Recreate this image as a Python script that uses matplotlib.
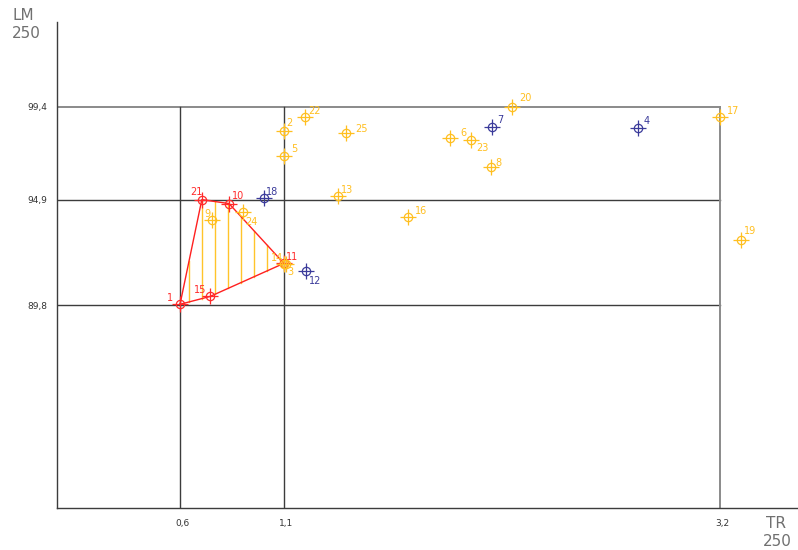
import matplotlib
matplotlib.use("Agg")
import matplotlib.pyplot as plt
import numpy as np

# sample points: id, TR, LM, group
ids = [1, 15, 21, 10, 11, 14, 3, 9, 24, 18, 12, 2, 22, 25, 5, 13, 16, 6, 23, 7, 20, 8, 4, 17, 19]
tr = [0.60, 0.745, 0.705, 0.836, 1.10, 1.10, 1.11, 0.754, 0.903, 1.004, 1.207, 1.10, 1.201, 1.398,
      1.10, 1.36, 1.697, 1.899, 2.00, 2.10, 2.197, 2.095, 2.806, 3.20, 3.30]
lm = [89.85, 90.23, 94.91, 94.72, 91.83, 91.80, 91.80, 93.95, 94.33, 95.01, 91.44, 98.24, 98.92, 98.15,
      97.04, 95.11, 94.05, 97.90, 97.81, 98.43, 99.40, 96.51, 98.39, 98.92, 92.98]
grp = ["r", "r", "r", "r", "r", "o", "o", "o", "o", "b", "b", "o", "o", "o",
       "o", "o", "o", "o", "o", "b", "o", "o", "b", "o", "o"]

# label offsets in pixels (dx right, dy down)
lab_off = {1: (-10, -6), 15: (-10, -6), 21: (-5, -8), 10: (9, -8), 11: (8, -6), 14: (-7, -6),
           3: (4, 8), 9: (-5, -6), 24: (8, 10), 18: (8, -6), 12: (9, 10), 2: (5, -8),
           22: (10, -6), 25: (16, -4), 5: (10, -7), 13: (9, -6), 16: (13, -6), 6: (14, -5),
           23: (12, 8), 7: (9, -7), 20: (14, -9), 8: (8, -4), 4: (8, -7), 17: (13, -6), 19: (9, -9)}

hull = [1, 21, 10, 11, 15]  # ids of the outlined zone, in order
x_lim_lines = [0.6, 1.1, 3.2]
y_lim_lines = [89.8, 94.9, 99.4]
x_labels = ["0,6", "1,1", "3,2"]
y_labels = ["89,8", "94,9", "99,4"]

COL = {"r": "#ff2a2a", "o": "#ffbf1f", "b": "#3a3a9a"}
LINE = "#3c3c3c"

fig = plt.figure(figsize=(7.98, 5.5), dpi=100)
ax = fig.add_axes([57 / 798, 42 / 550, (798 - 57) / 798, 486 / 550])
ax.set_xlim(0.0078, 3.575)
ax.set_ylim(80, 103.5)
for s in ["top", "right"]:
    ax.spines[s].set_visible(False)
for s in ["left", "bottom"]:
    ax.spines[s].set_color(LINE)
    ax.spines[s].set_linewidth(1.0)

# limit frame
for y in y_lim_lines:
    top = y == 99.4
    ax.plot([0.0078, 3.2], [y, y], color="#8a8a8a" if top else LINE, lw=1.4 if top else 1.0, zorder=1)
for x in x_lim_lines:
    edge = x == 3.2
    ax.plot([x, x], [80, 99.4], color="#8a8a8a" if edge else LINE, lw=1.4 if edge else 1.0, zorder=1)

ax.set_xticks(x_lim_lines, x_labels, fontsize=6.5, color="#333333")
ax.set_yticks(y_lim_lines, y_labels, fontsize=6.5, color="#333333")
ax.tick_params(length=0, pad=8)
ax.tick_params(axis="y", pad=7)
for t in ax.get_xticklabels():
    t.set_x(t.get_position()[0])
    t.set_horizontalalignment("left")
    t.set_transform(t.get_transform() + matplotlib.transforms.ScaledTranslation(-5 / 100, 0, fig.dpi_scale_trans))

# outlined zone with vertical hatching
pos = {i: (x, y) for i, x, y in zip(ids, tr, lm)}
hx = [pos[i][0] for i in hull] + [pos[hull[0]][0]]
hy = [pos[i][1] for i in hull] + [pos[hull[0]][1]]
for xv in np.arange(0.643, 1.1, 0.0626):
    ys = []
    for k in range(len(hull)):
        x1, y1, x2, y2 = hx[k], hy[k], hx[k + 1], hy[k + 1]
        if min(x1, x2) <= xv <= max(x1, x2) and x1 != x2:
            ys.append(y1 + (xv - x1) * (y2 - y1) / (x2 - x1))
    if len(ys) >= 2:
        ax.plot([xv, xv], [min(ys), max(ys)], color="#ffc42a", lw=1.0, zorder=2)
ax.plot(hx, hy, color="#ff2020", lw=1.0, zorder=3)

for i, x, y, g in zip(ids, tr, lm, grp):
    c = COL[g]
    ax.plot(x, y, marker="o", ms=6, mfc="none", mec=c, mew=0.9, zorder=4)
    ax.plot(x, y, marker="+", ms=12, mec=c, mew=0.9, zorder=4)
    dx, dy = lab_off[i]
    ax.annotate(str(i), (x, y), xytext=(dx * 0.72, -dy * 0.72), textcoords="offset points",
                ha="center", va="center", fontsize=7, color=c, zorder=5)

fig.text(12 / 798, 1 - 15 / 550, "LM", fontsize=11, color="#707070", va="center", ha="left")
fig.text(12 / 798, 1 - 33 / 550, "250", fontsize=11, color="#707070", va="center", ha="left")
fig.text(766 / 798, 1 - 524 / 550, "TR", fontsize=11, color="#707070", va="center", ha="left")
fig.text(763 / 798, 1 - 542 / 550, "250", fontsize=11, color="#707070", va="center", ha="left")

fig.savefig("out.png", dpi=100)
